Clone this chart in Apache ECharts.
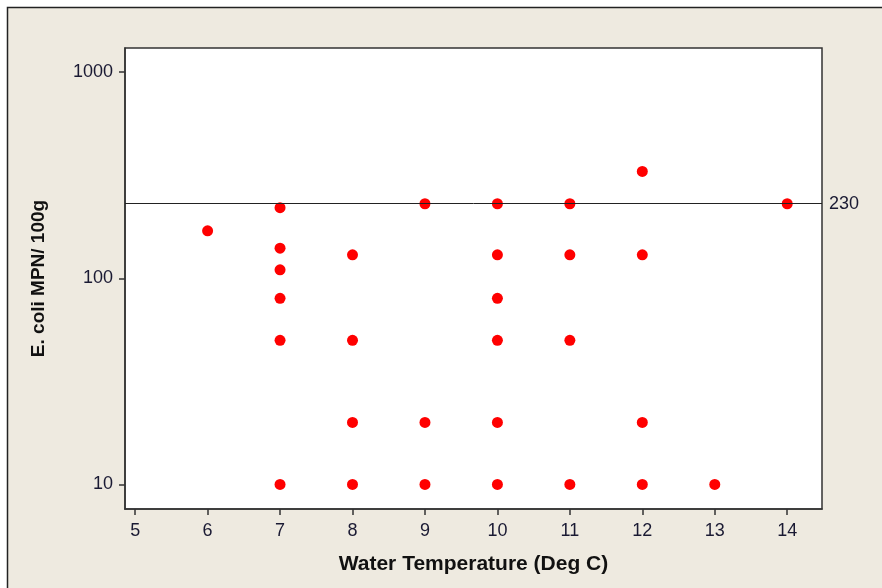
<!DOCTYPE html>
<html><head><meta charset="utf-8">
<script src="https://cdn.jsdelivr.net/npm/echarts@6/dist/echarts.min.js"></script>
<style>html,body{margin:0;padding:0;background:#fff}#c{width:882px;height:588px}</style>
</head><body><div id="c"></div>
<script>
const temps = [6, 7, 7, 7, 7, 7, 7, 8, 8, 8, 8, 9, 9, 9, 10, 10, 10, 10, 10, 10, 11, 11, 11, 11, 12, 12, 12, 12, 13, 14];
const ecoli = [170, 220, 140, 110, 80, 50, 10, 130, 50, 20, 10, 230, 20, 10, 230, 130, 80, 50, 20, 10, 230, 130, 50, 10, 330, 130, 20, 10, 10, 230];
const xTicks = [5, 6, 7, 8, 9, 10, 11, 12, 13, 14];
const yTicks = [10, 100, 1000];
const refValue = 230;

const points = temps.map((t, i) => [t, ecoli[i]]);
const font = 'Liberation Sans';
const labelColor = '#1a1a33';
const chart = echarts.init(document.getElementById('c'));
chart.setOption({
  backgroundColor: '#ffffff',
  animation: false,
  graphic: [{
    type: 'rect', z: -10, silent: true,
    shape: {x: 7.5, y: 7.5, width: 900, height: 600},
    style: {fill: '#EEEAE0', stroke: '#222', lineWidth: 1.5}
  }],
  grid: {left: 125, top: 48, width: 697, height: 461, show: true, backgroundColor: '#ffffff', borderColor: '#333', borderWidth: 1.5},
  xAxis: {
    type: 'value', min: 4.86, max: 14.48,
    name: 'Water Temperature (Deg C)', nameLocation: 'middle', nameGap: 45,
    nameTextStyle: {fontFamily: font, fontWeight: 'bold', fontSize: 21, color: '#111'},
    axisLine: {show: true, lineStyle: {color: '#333', width: 1.5}},
    splitLine: {show: false},
    axisTick: {show: true, length: 6, inside: false, customValues: xTicks, lineStyle: {color: '#333', width: 1.5}},
    axisLabel: {customValues: xTicks, fontFamily: font, fontSize: 18, color: labelColor, margin: 13}
  },
  yAxis: {
    type: 'log', logBase: 10, min: 7.6, max: 1310,
    name: 'E. coli MPN/ 100g', nameLocation: 'middle', nameGap: 77,
    nameTextStyle: {fontFamily: font, fontWeight: 'bold', fontSize: 19, color: '#111'},
    axisLine: {show: true, lineStyle: {color: '#333', width: 1.5}},
    splitLine: {show: false},
    axisTick: {show: true, length: 6, customValues: yTicks, lineStyle: {color: '#333', width: 1.5}},
    axisLabel: {customValues: yTicks, formatter: v => String(Math.round(v)), fontFamily: font, fontSize: 18, color: labelColor, margin: 12}
  },
  series: [{
    type: 'scatter',
    data: points,
    symbol: 'circle', symbolSize: 11,
    itemStyle: {color: '#ff0000', opacity: 1},
    markLine: {
      silent: true, symbol: ['none', 'none'],
      lineStyle: {color: '#222', width: 1, type: 'solid'},
      label: {show: true, position: 'end', formatter: String(refValue), fontFamily: font, fontSize: 18, color: labelColor, distance: 7},
      data: [{yAxis: refValue}]
    }
  }]
});
</script></body></html>
